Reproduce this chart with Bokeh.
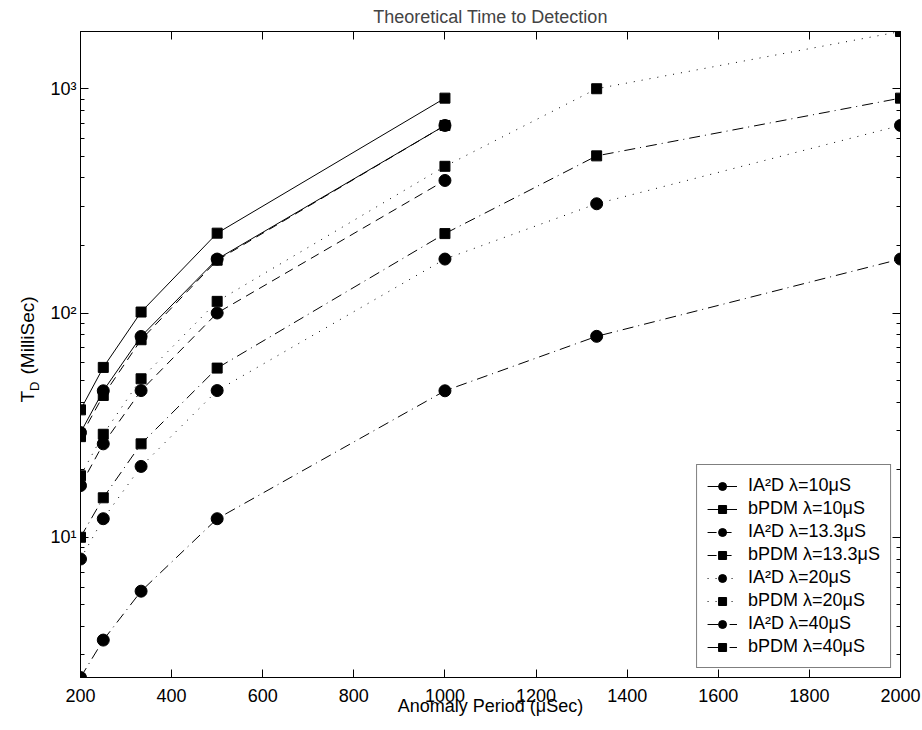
import math
from bokeh.plotting import figure
from bokeh.layouts import row
from bokeh.models import (Range1d, LinearAxis, LogAxis, FixedTicker, CustomJSTickFormatter,
                          Legend, LegendItem, Label)
from bokeh.embed import file_html
from bokeh.resources import INLINE

# ---- data ----
x_short = [200, 250, 333, 500, 1000]
x_long = [200, 250, 333, 500, 1000, 1333, 2000]

ia2d_10 = [29.3, 45.0, 78.6, 174, 686]
bpdm_10 = [37.0, 57.2, 101, 227, 908]
ia2d_13 = [17.0, 26.1, 45.1, 100, 390]
bpdm_13 = [28.1, 42.9, 76.0, 172, 686]
ia2d_20 = [8.0, 12.1, 20.7, 45.1, 174, 307, 686]
bpdm_20 = [18.8, 28.8, 50.9, 112.7, 451, 1000, 1800]
ia2d_40 = [2.37, 3.48, 5.75, 12.1, 45, 78.7, 174]
bpdm_40 = [10.0, 15.0, 26.1, 56.8, 226, 502, 908]

labels = ["IA\u00b2D \u03bb=10\u03bcS", "bPDM \u03bb=10\u03bcS",
          "IA\u00b2D \u03bb=13.3\u03bcS", "bPDM \u03bb=13.3\u03bcS",
          "IA\u00b2D \u03bb=20\u03bcS", "bPDM \u03bb=20\u03bcS",
          "IA\u00b2D \u03bb=40\u03bcS", "bPDM \u03bb=40\u03bcS"]

x_ticks = [200, 400, 600, 800, 1000, 1200, 1400, 1600, 1800, 2000]
y_ticks = [10, 100, 1000]

title_text = "Theoretical Time to Detection"
x_label = "Anomaly Period (\u03bcSec)"
y_label_main, y_label_sub, y_label_rest = "T", "D", "(MilliSec)"

# ---- styles ----
DASH = {"solid": "solid", "dashed": "9 6", "dotted": "1 7", "dashdot": "11 5 1 5"}
series = [
    (labels[0], x_short, ia2d_10, "solid", "circle"),
    (labels[1], x_short, bpdm_10, "solid", "square"),
    (labels[2], x_short, ia2d_13, "dashed", "circle"),
    (labels[3], x_short, bpdm_13, "dashed", "square"),
    (labels[4], x_long, ia2d_20, "dotted", "circle"),
    (labels[5], x_long, bpdm_20, "dotted", "square"),
    (labels[6], x_long, ia2d_40, "dashdot", "circle"),
    (labels[7], x_long, bpdm_40, "dashdot", "square"),
]

FONT = "Liberation Sans"
FS = "18px"
H = 730
LW = 44  # width of the strip holding the y-axis label
TOP, BOTTOM = 31, 53
FRAME_H = H - TOP - BOTTOM

ymin = min(min(s[2]) for s in series)
ymax = max(max(s[2]) for s in series)
xmin = min(min(s[1]) for s in series)
xmax = max(max(s[1]) for s in series)

p = figure(frame_width=820, frame_height=FRAME_H, y_axis_type="log",
           x_range=Range1d(xmin, xmax), y_range=Range1d(ymin, ymax),
           output_backend="svg", toolbar_location=None,
           min_border_left=80 - LW, min_border_right=22,
           min_border_top=TOP, min_border_bottom=BOTTOM)

p.title.text = title_text
p.title.align = "center"
p.title.text_font = FONT
p.title.text_font_size = FS
p.title.text_font_style = "normal"
p.title.standoff = 9
p.title.offset = 0

p.xgrid.visible = False
p.ygrid.visible = False
p.outline_line_color = "black"
p.outline_line_width = 1
p.background_fill_color = "white"
p.border_fill_color = "white"

xticker = FixedTicker(ticks=x_ticks, minor_ticks=[])
minor = [m * 10 ** k for k in range(0, 4) for m in range(2, 10)]
yticker = FixedTicker(ticks=y_ticks, minor_ticks=minor)
sup_fmt = CustomJSTickFormatter(code="""
const sup = {"0":"\u2070","1":"\u00b9","2":"\u00b2","3":"\u00b3","4":"\u2074","5":"\u2075"};
const e = Math.round(Math.log10(tick));
return "10" + String(e).split("").map(c => sup[c]).join("");
""")
blank = CustomJSTickFormatter(code="return '';")


def style_axis(ax, show_labels=True):
    ax.axis_line_color = "black"
    ax.major_tick_in = 8
    ax.major_tick_out = 0
    ax.minor_tick_in = 4
    ax.minor_tick_out = 0
    ax.major_tick_line_color = "black"
    ax.minor_tick_line_color = "black"
    ax.major_label_text_font = FONT
    ax.major_label_text_font_size = FS if show_labels else "0px"
    ax.major_label_text_color = "black"
    if not show_labels:
        ax.major_label_standoff = 0
        ax.formatter = blank


xa = p.xaxis[0]
xa.ticker = xticker
style_axis(xa)
xa.major_label_standoff = 11
xa.axis_label = x_label
xa.axis_label_text_font = FONT
xa.axis_label_text_font_size = FS
xa.axis_label_text_font_style = "normal"
xa.axis_label_text_color = "black"
xa.axis_label_standoff = -9

ya = p.yaxis[0]
ya.ticker = yticker
ya.formatter = sup_fmt
style_axis(ya)
ya.major_label_standoff = 4

top = LinearAxis(ticker=xticker)
style_axis(top, False)
p.add_layout(top, "above")
right = LogAxis(ticker=yticker)
style_axis(right, False)
p.add_layout(right, "right")

items = []
for lab, xs, ys, dash, mk in series:
    lr = p.line(xs, ys, line_color="black", line_width=1, line_dash=DASH[dash])
    sr = p.scatter(xs, ys, marker=mk, size=12 if mk == "circle" else 10,
                   fill_color="black", line_color="black")
    items.append(LegendItem(label=lab, renderers=[lr, sr]))

legend = Legend(items=items, location="bottom_right")
legend.margin = 9
legend.padding = 10
legend.spacing = 2
legend.glyph_width = 30
legend.glyph_height = 20
legend.label_height = 20
legend.label_standoff = 11
legend.label_text_font = FONT
legend.label_text_font_size = FS
legend.label_text_color = "black"
legend.border_line_color = "black"
legend.border_line_width = 1
legend.background_fill_color = "white"
legend.background_fill_alpha = 1
p.add_layout(legend)

# ---- narrow strip on the left holding the y-axis label "T_D (MilliSec)" ----
# (its frame is aligned with the main frame by the row layout)
lf = figure(title=None, width=LW, height=H,
            min_border_left=0, min_border_right=0,
            min_border_top=TOP, min_border_bottom=BOTTOM,
            x_range=Range1d(0, 1), y_range=Range1d(0, 1),
            x_axis_location=None, y_axis_location=None,
            output_backend="svg", toolbar_location=None)
lf.xgrid.visible = False
lf.ygrid.visible = False
lf.outline_line_color = None
lf.background_fill_color = "white"
lf.border_fill_color = "white"

common = dict(x_units="screen", y_units="screen", angle=math.pi / 2,
              text_font=FONT, text_color="black", text_align="left",
              text_baseline="middle")
frame_bottom = TOP + FRAME_H          # page y of the frame bottom
y_start = 402                         # page y where the label starts (reads upward)
lf.add_layout(Label(x=27, y=frame_bottom - y_start, text=y_label_main,
                    text_font_size="19px", **common))
lf.add_layout(Label(x=34, y=frame_bottom - y_start + 11.6, text=y_label_sub,
                    text_font_size="13px", **common))
lf.add_layout(Label(x=27, y=frame_bottom - y_start + 28, text=y_label_rest,
                    text_font_size="19px", **common))

layout = row(lf, p, spacing=0)
open("out.html", "w").write(file_html(layout, INLINE))
